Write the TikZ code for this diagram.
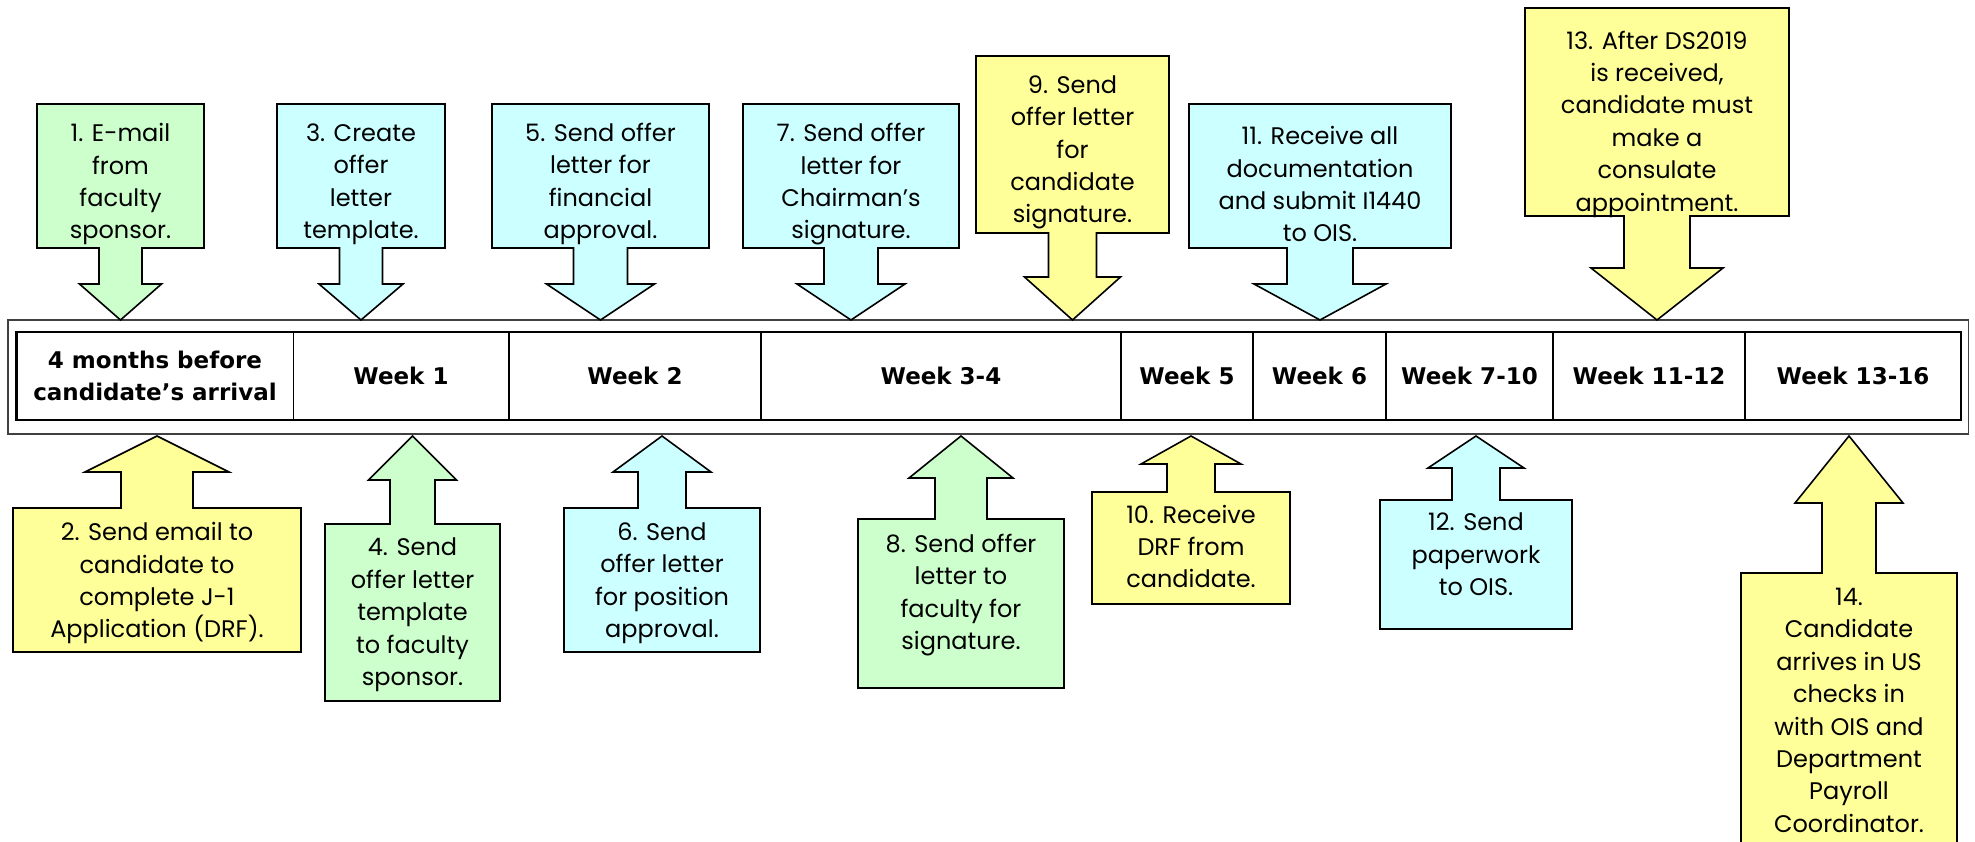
\documentclass[tikz,border=0pt]{standalone}
\usepackage{fontspec}
\usepackage{xcolor}
\setmainfont{Poppins}
\newfontfamily\weekfont{DejaVu Sans}
\definecolor{greenfill}{HTML}{CCFFCC}
\definecolor{cyanfill}{HTML}{CCFFFF}
\definecolor{yellowfill}{HTML}{FFFF99}

\begin{document}
\begin{tikzpicture}[x=0.5pt, y=-0.5pt,
  callout/.style={draw=black, line width=0.8pt, line join=miter},
  calltext/.style={align=center, inner sep=0pt, font=\fontsize{12}{16.2}\selectfont},
  weektext/.style={align=center, inner sep=0pt, font=\weekfont\bfseries\fontsize{11.5}{15.8}\selectfont}]
  \useasboundingbox (0,0) rectangle (1975,841);
  \clip (0,0) rectangle (1975,841);

  % Timeline frame and table
  \draw[black!75, line width=0.8pt] (8,320) rectangle (1968.5,434);
  \draw[line width=1.3pt] (16.5,332) rectangle (1961,420);
  \draw[line width=0.9pt] (293.5,332) -- (293.5,420) (509,332) -- (509,420)
    (761,332) -- (761,420) (1121,332) -- (1121,420) (1253,332) -- (1253,420)
    (1386,332) -- (1386,420) (1553,332) -- (1553,420) (1745,332) -- (1745,420);

  \node[weektext] (wk0) at (155,376) {4 months before\\candidate’s arrival};
  \node[weektext] (wk1) at (401,376) {Week 1};
  \node[weektext] (wk2) at (635,376) {Week 2};
  \node[weektext] (wk34) at (941,376) {Week 3-4};
  \node[weektext] (wk5) at (1187,376) {Week 5};
  \node[weektext] (wk6) at (1319.5,376) {Week 6};
  \node[weektext] (wk710) at (1469.5,376) {Week 7-10};
  \node[weektext] (wk1112) at (1649,376) {Week 11-12};
  \node[weektext] (wk1316) at (1853,376) {Week 13-16};

  % Callouts above the timeline
  \draw[callout, fill=greenfill] (37,104) -- (204,104) -- (204,248) -- (142,248) -- (142,284) -- (161.5,284) -- (120.5,320) -- (79.5,284) -- (99,284) -- (99,248) -- (37,248) -- cycle;
  \node[calltext] (task1) at (120.5,184.3) {1. E-mail\\from\\faculty\\sponsor.};

  \draw[callout, fill=cyanfill] (277,104) -- (445,104) -- (445,248) -- (382.5,248) -- (382.5,284) -- (403,284) -- (361,320) -- (319,284) -- (339.5,284) -- (339.5,248) -- (277,248) -- cycle;
  \node[calltext] (task3) at (361,184.3) {3. Create\\offer\\letter\\template.};

  \draw[callout, fill=cyanfill] (492,104) -- (709,104) -- (709,248) -- (627.5,248) -- (627.5,284) -- (654.5,284) -- (600.5,320) -- (546.5,284) -- (573.5,284) -- (573.5,248) -- (492,248) -- cycle;
  \node[calltext] (task5) at (600.5,184) {5. Send offer\\letter for\\financial\\approval.};

  \draw[callout, fill=cyanfill] (743,104) -- (959,104) -- (959,248) -- (878,248) -- (878,284) -- (905,284) -- (851,320) -- (797,284) -- (824,284) -- (824,248) -- (743,248) -- cycle;
  \node[calltext] (task7) at (851,184.3) {7. Send offer\\letter for\\Chairman’s\\signature.};

  \draw[callout, fill=yellowfill] (976,56) -- (1169,56) -- (1169,233) -- (1096.5,233) -- (1096.5,277) -- (1120.5,277) -- (1072.5,320) -- (1024.5,277) -- (1048.5,277) -- (1048.5,233) -- (976,233) -- cycle;
  \node[calltext] (task9) at (1072.5,152.5) {9. Send\\offer letter\\for\\candidate\\signature.};

  \draw[callout, fill=cyanfill] (1189,104) -- (1451,104) -- (1451,248) -- (1353,248) -- (1353,284) -- (1386,284) -- (1320,320) -- (1254,284) -- (1287,284) -- (1287,248) -- (1189,248) -- cycle;
  \node[calltext] (task11) at (1320,184.3) {11. Receive all\\documentation\\and submit I1440\\to OIS.};

  \draw[callout, fill=yellowfill] (1525,8) -- (1789,8) -- (1789,216) -- (1690,216) -- (1690,268) -- (1723,268) -- (1657,320) -- (1591,268) -- (1624,268) -- (1624,216) -- (1525,216) -- cycle;
  \node[calltext] (task13) at (1657,124) {13. After DS2019\\is received,\\candidate must\\make a\\consulate\\appointment.};

  % Callouts below the timeline
  \draw[callout, fill=yellowfill] (13,652) -- (301,652) -- (301,508) -- (193,508) -- (193,472) -- (229,472) -- (157,436) -- (85,472) -- (121,472) -- (121,508) -- (13,508) -- cycle;
  \node[calltext] (task2) at (157,583.3) {2. Send email to\\candidate to\\complete J-1\\Application (DRF).};

  \draw[callout, fill=greenfill] (325,701) -- (500,701) -- (500,524) -- (435,524) -- (435,480) -- (456.5,480) -- (412.5,436) -- (368.5,480) -- (390,480) -- (390,524) -- (325,524) -- cycle;
  \node[calltext] (task4) at (412.5,615) {4. Send\\offer letter\\template\\to faculty\\sponsor.};

  \draw[callout, fill=cyanfill] (564,652) -- (760,652) -- (760,508) -- (686,508) -- (686,472) -- (711,472) -- (662,436) -- (613,472) -- (638,472) -- (638,508) -- (564,508) -- cycle;
  \node[calltext] (task6) at (662,583.3) {6. Send\\offer letter\\for position\\approval.};

  \draw[callout, fill=greenfill] (858,688) -- (1064,688) -- (1064,519) -- (987,519) -- (987,478) -- (1013,478) -- (961,436) -- (909,478) -- (935,478) -- (935,519) -- (858,519) -- cycle;
  \node[calltext] (task8) at (961,595) {8. Send offer\\letter to\\faculty for\\signature.};

  \draw[callout, fill=yellowfill] (1092,604) -- (1290,604) -- (1290,492) -- (1215,492) -- (1215,464) -- (1241,464) -- (1191,436) -- (1141,464) -- (1167,464) -- (1167,492) -- (1092,492) -- cycle;
  \node[calltext] (task10) at (1191,546.5) {10. Receive\\DRF from\\candidate.};

  \draw[callout, fill=cyanfill] (1380,629) -- (1572,629) -- (1572,500) -- (1500,500) -- (1500,468) -- (1524,468) -- (1476,436) -- (1428,468) -- (1452,468) -- (1452,500) -- (1380,500) -- cycle;
  \node[calltext] (task12) at (1476,554.5) {12. Send\\paperwork\\to OIS.};

  \draw[callout, fill=yellowfill] (1741,850) -- (1957,850) -- (1957,573) -- (1876,573) -- (1876,503) -- (1903,503) -- (1849,436) -- (1795,503) -- (1822,503) -- (1822,573) -- (1741,573) -- cycle;
  \node[calltext] (task14) at (1849,710.3) {14.\\Candidate\\arrives in US\\checks in\\with OIS and\\Department\\Payroll\\Coordinator.};
\end{tikzpicture}
\end{document}
